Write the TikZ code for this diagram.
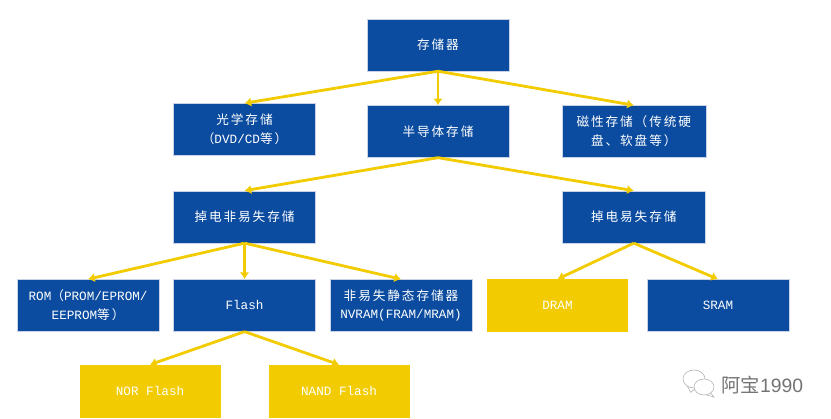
\documentclass[tikz,border=0pt]{standalone}
\usepackage{fontspec}
\setmainfont{Liberation Sans}
\setmonofont{Liberation Mono}
\newfontfamily\cjk[LetterSpace=15]{Noto Sans CJK SC}
\newfontfamily\cjkmark{Noto Sans CJK SC}
\newcommand{\zh}[1]{{\cjk #1}}
\usetikzlibrary{arrows.meta, positioning}
\definecolor{boxblue}{HTML}{0B4CA0}
\definecolor{boxyellow}{HTML}{F2CB00}
\definecolor{boxedge}{HTML}{C9D2E6}

\begin{document}
\begin{tikzpicture}[node distance=1.02cm,
  block/.style={draw=boxedge, line width=0.4pt, fill=boxblue, text=white,
                minimum width=4.26cm, minimum height=1.56cm, inner sep=0pt,
                align=center, font=\fontsize{10.8pt}{16pt}\selectfont\ttfamily},
  leaf/.style={block, draw=boxyellow, fill=boxyellow, minimum width=4.2cm},
  arrow/.style={-{Latex[length=2mm, width=2.8mm]}, line width=2.4pt, draw=boxyellow},
  icon/.style={draw=black!30, fill=white, line width=0.5pt}]

  \useasboundingbox (0,0) rectangle (24.93,12.57);

  \node[block] (mem) at (13.14,11.22)   {\zh{存储器}};
  \node[block, below=of mem]            (semi)  {\zh{半导体存储}};
  \node[block, left=1.53cm of semi, yshift=0.06cm] (opt) {\zh{光学存储}\\\zh{（}DVD/CD\zh{等）}};
  \node[block, right=1.57cm of semi, minimum width=4.32cm] (mag) {\zh{磁性存储（传统硬}\\\zh{盘、软盘等）}};
  \node[block, below=1.05cm of opt]     (nv)    {\zh{掉电非易失存储}};
  \node[block, below=0.99cm of mag, minimum width=4.3cm] (vol) {\zh{掉电易失存储}};
  \node[block, below=1.08cm of nv]      (flash) {Flash};
  \node[block, left=0.42cm of flash]    (rom)   {ROM\zh{（}PROM/EPROM/\\EEPROM\zh{等）}};
  \node[block, right=0.42cm of flash]   (nvram) {\zh{非易失静态存储器}\\NVRAM(FRAM/MRAM)};
  \node[leaf, right=0.45cm of nvram]    (dram)  {DRAM};
  \node[block, right=0.57cm of dram]    (sram)  {SRAM};
  \node[leaf, below=0.99cm of flash, xshift=-2.835cm] (nor)  {NOR Flash};
  \node[leaf, below=0.99cm of flash, xshift=2.835cm]  (nand) {NAND Flash};

  \draw[arrow] (mem.south)   -- (opt.north);
  \draw[arrow] (mem.south)   -- (semi.north);
  \draw[arrow] (mem.south)   -- (mag.north);
  \draw[arrow] (semi.south)  -- (nv.north);
  \draw[arrow] (semi.south)  -- (vol.north);
  \draw[arrow] (nv.south)    -- (rom.north);
  \draw[arrow] (nv.south)    -- (flash.north);
  \draw[arrow] (nv.south)    -- (nvram.north);
  \draw[arrow] (vol.south)   -- (dram.north);
  \draw[arrow] (vol.south)   -- (sram.north);
  \draw[arrow] (flash.south) -- (nor.north);
  \draw[arrow] (flash.south) -- (nand.north);

  % watermark
  \draw[icon] (20.6,1.02) -- (20.72,0.8) -- (20.9,0.95);
  \draw[icon] (20.82,1.2) ellipse (0.33cm and 0.27cm);
  \draw[icon] (21.3,0.8) -- (21.42,0.66) -- (21.2,0.72);
  \draw[icon] (21.12,0.96) ellipse (0.3cm and 0.24cm);
  \node[anchor=west, inner sep=0pt, text=black!55, font=\fontsize{16.5pt}{18pt}\selectfont]
    (mark) at (21.64,1.02) {{\cjkmark 阿宝}1990};
\end{tikzpicture}
\end{document}
